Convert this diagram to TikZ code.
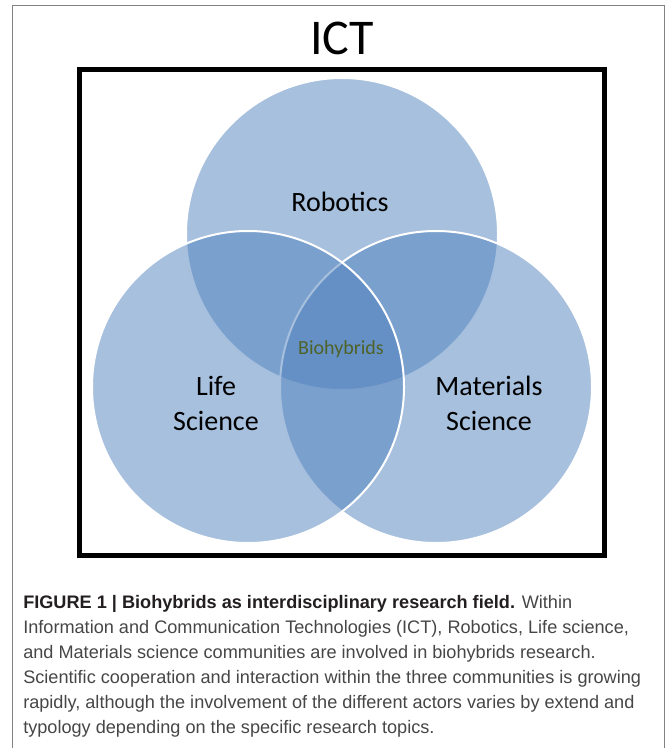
\documentclass[tikz,border=0pt]{standalone}
\usepackage{fontspec}
\setmainfont{Carlito}
\newfontfamily\capfont{Liberation Sans}
\usetikzlibrary{calc}
\definecolor{vennblue}{RGB}{79,129,189}
\definecolor{biogreen}{RGB}{79,98,40}
\definecolor{framegray}{RGB}{130,130,130}
\definecolor{capgray}{RGB}{70,70,70}
\definecolor{capbold}{RGB}{35,31,32}

\begin{document}
\begin{tikzpicture}[x=0.75pt,y=0.75pt,yscale=-1,
    venn/.style={fill=vennblue,fill opacity=0.5,draw=white,line width=1.5},
    setlabel/.style={font=\fontsize{21}{26.25}\selectfont,align=center,inner sep=0},
    captxt/.style={anchor=base west,inner sep=0,text=capgray,font=\capfont\fontsize{13.6}{18.75}\selectfont}
  ]
\useasboundingbox (0,0) rectangle (669,748);
% outer frame
\draw[framegray,line width=1] (12.5,5.5) rectangle (664.5,770);
% ICT box
\node[font=\fontsize{37.5}{44}\selectfont,anchor=base,inner sep=0] (ict) at (342,55) {ICT};
\draw[line width=3.8] (79.5,69.5) rectangle (604.5,555.5);
% circle centres
\coordinate (rob) at (342,234);
\coordinate (life) at (248,387);
\coordinate (mat) at (436,387);
% Venn circles
\draw[venn] (rob) circle[radius=156];
\draw[venn] (mat) circle[radius=156];
\draw[venn] (life) circle[radius=156];
% labels
\node[setlabel] (roblabel) at ($(rob)+(-2,-32)$) {Robotics};
\node[setlabel] (lifelabel) at ($(life)+(-32,16)$) {Life\\Science};
\node[setlabel] (matlabel) at ($(mat)+(53,16)$) {Materials\\Science};
\node[font=\fontsize{15}{18}\selectfont,text=biogreen,inner sep=0] (bio) at (341,349) {Biohybrids};
% caption
\node[captxt] (cap1) at (23,608) {{\color{capbold}\bfseries FIGURE 1 | Biohybrids as interdisciplinary research field.} Within};
\node[captxt] (cap2) at (23,633) {Information and Communication Technologies (ICT), Robotics, Life science,};
\node[captxt] (cap3) at (23,658) {and Materials science communities are involved in biohybrids research.};
\node[captxt] (cap4) at (23,683) {Scientific cooperation and interaction within the three communities is growing};
\node[captxt] (cap5) at (23,708) {rapidly, although the involvement of the different actors varies by extend and};
\node[captxt] (cap6) at (23,733) {typology depending on the specific research topics.};
\end{tikzpicture}
\end{document}
